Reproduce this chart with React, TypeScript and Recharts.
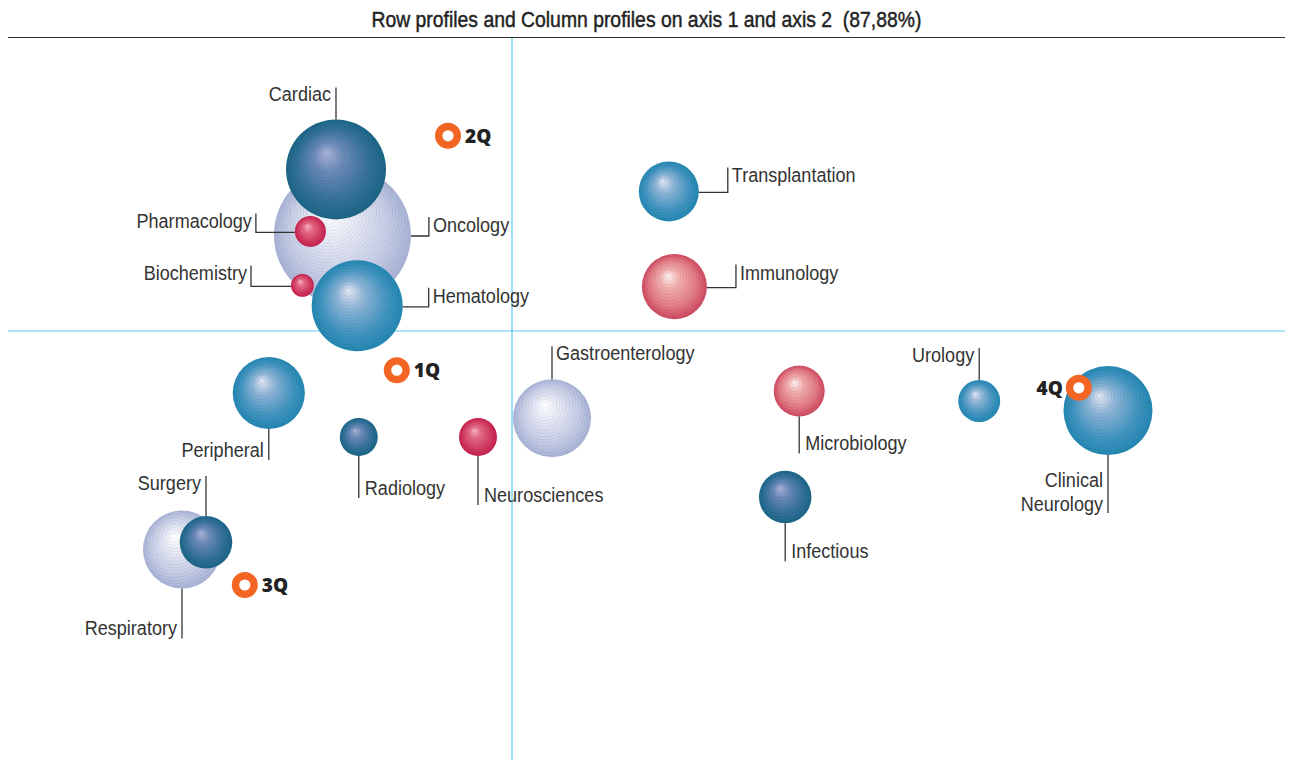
import React from "react";
import { ScatterChart, Scatter, XAxis, YAxis, ZAxis, ReferenceLine } from "recharts";

// row / column profiles (axis 1, axis 2) and their masses
const fields = [
  "Oncology", "Gastroenterology", "Respiratory",
  "Cardiac", "Radiology", "Infectious", "Surgery",
  "Hematology", "Transplantation", "Peripheral", "Urology", "Clinical Neurology",
  "Pharmacology", "Biochemistry", "Neurosciences",
  "Immunology", "Microbiology",
];
const axis1 = [
  -0.424, 0.1, -0.825,
  -0.44, -0.383, 0.683, -0.765,
  -0.387, 0.392, -0.608, 1.168, 1.49,
  -0.504, -0.524, -0.085,
  0.406, 0.718,
];
const axis2 = [
  0.24, -0.218, -0.546,
  0.404, -0.265, -0.415, -0.528,
  0.063, 0.349, -0.155, -0.175, -0.199,
  0.249, 0.114, -0.265,
  0.111, -0.15,
];
const mass = [
  46.9, 15.2, 15.2,
  25, 3.6, 6.9, 6.9,
  20.7, 9.0, 13.0, 4.4, 19.8,
  2.4, 1.3, 3.6,
  10.6, 6.5,
];
const tone = [
  "light", "light", "light",
  "dark", "dark", "dark", "dark",
  "mid", "mid", "mid", "mid", "mid",
  "red", "red", "red",
  "rose", "rose",
];

const quadrants = ["1Q", "2Q", "3Q", "4Q"];
const quadAxis1 = [-0.288, -0.16, -0.668, 1.417];
const quadAxis2 = [-0.098, 0.488, -0.635, -0.142];

const toneOrder = ["light", "dark", "mid", "red", "rose"];
const palette: Record<string, string[]> = {
  light: ["#ffffff", "#e6e9f5", "#c5cce5", "#a7b2d5"],
  dark: ["#aab3d8", "#6a89b7", "#33709a", "#1b6586"],
  mid: ["#e3e6f4", "#8db4d6", "#4194c0", "#2387b2"],
  red: ["#f8b6c3", "#e46a86", "#d33c62", "#c21f4d"],
  rose: ["#fdf1ef", "#f1adad", "#e27a84", "#cd4860"],
};

// leader line placement for each label
const labelLayout: Record<string, { kind: string; len: number; h?: number }> = {
  Cardiac: { kind: "up-left", len: 32 },
  Urology: { kind: "up-left", len: 32 },
  Surgery: { kind: "up-left", len: 40 },
  Gastroenterology: { kind: "up-right", len: 33 },
  Microbiology: { kind: "down-right", len: 37 },
  Infectious: { kind: "down-right", len: 38 },
  Radiology: { kind: "down-right", len: 42 },
  Neurosciences: { kind: "down-right", len: 49 },
  Peripheral: { kind: "down-left", len: 31 },
  Respiratory: { kind: "down-left", len: 50 },
  "Clinical Neurology": { kind: "down-left", len: 58 },
  Oncology: { kind: "elbow-right", len: 18, h: 19 },
  Hematology: { kind: "elbow-right", len: 26, h: 19 },
  Transplantation: { kind: "elbow-right", len: 29, h: 25 },
  Immunology: { kind: "elbow-right", len: 29, h: 23 },
  Pharmacology: { kind: "elbow-left", len: 39, h: 19 },
  Biochemistry: { kind: "elbow-left", len: 40, h: 21 },
};

const FONT = "'Liberation Sans', Arial, sans-serif";
const INK = "#333333";
const LINE_GAP = 24;

const bubbles = fields.map((name, i) => ({ name, x: axis1[i], y: axis2[i], z: mass[i], tone: tone[i] }));
const quadData = quadrants.map((name, i) => ({ name, x: quadAxis1[i], y: quadAxis2[i] }));

// condensed label text: regular sans squeezed horizontally, may wrap on a space
const NText = ({ x, y, anchor, lines }: { x: number; y: number; anchor: "start" | "end"; lines: string[] }) => (
  <g transform={`translate(${x},${y - (lines.length - 1) * LINE_GAP}) scale(0.86,1)`}>
    <text x={0} y={0} textAnchor={anchor} fontFamily={FONT} fontSize={21} fill={INK}>
      {lines.map((s, k) => (
        <tspan key={s} x={0} dy={k === 0 ? 0 : LINE_GAP}>{s}</tspan>
      ))}
    </text>
  </g>
);

const BubbleLabel = ({ name, cx, cy, r }: { name: string; cx: number; cy: number; r: number }) => {
  const lay = labelLayout[name];
  if (!lay) return null;
  const ln = { stroke: INK, strokeWidth: 1.3, fill: "none" };
  const lines = name === "Clinical Neurology" ? ["Clinical", "Neurology"] : [name];
  if (lay.kind === "up-left" || lay.kind === "up-right") {
    const top = cy - r - lay.len;
    const right = lay.kind === "up-right";
    return (
      <g>
        <line x1={cx} y1={cy - r} x2={cx} y2={top} {...ln} />
        <NText x={right ? cx + 4 : cx - 5} y={top + 14} anchor={right ? "start" : "end"} lines={lines} />
      </g>
    );
  }
  if (lay.kind === "down-left" || lay.kind === "down-right") {
    const bottom = cy + r + lay.len;
    const right = lay.kind === "down-right";
    return (
      <g>
        <line x1={cx} y1={cy + r} x2={cx} y2={bottom} {...ln} />
        <NText x={right ? cx + 6 : cx - 5} y={bottom - (lines.length > 1 ? 2 : 3)} anchor={right ? "start" : "end"} lines={lines} />
      </g>
    );
  }
  const right = lay.kind === "elbow-right";
  const x0 = right ? cx + r : cx - r;
  const ex = right ? x0 + lay.len : x0 - lay.len;
  const y0 = cy + 1;
  const top = y0 - (lay.h || 20);
  return (
    <g>
      <polyline points={`${x0},${y0} ${ex},${y0} ${ex},${top}`} {...ln} />
      <NText x={right ? ex + 4 : ex - 4} y={top + 15} anchor={right ? "start" : "end"} lines={lines} />
    </g>
  );
};

const Bubble = (props: any) => {
  const { cx, cy, size, width, payload } = props;
  const r = size ? Math.sqrt(size / Math.PI) : width / 2;
  const id = "rings-" + payload.name.replace(/\s/g, "");
  const hx = cx - r * 0.2;
  const hy = cy - r * 0.34;
  return (
    <g>
      <defs>
        <radialGradient id={id} gradientUnits="userSpaceOnUse" cx={hx} cy={hy} r={3.2} spreadMethod="repeat">
          <stop offset="0" stopColor="#000" stopOpacity={0} />
          <stop offset="0.6" stopColor="#000" stopOpacity={0} />
          <stop offset="1" stopColor="#000" stopOpacity={0.07} />
        </radialGradient>
      </defs>
      <circle cx={cx} cy={cy} r={r} fill={`url(#g-${payload.tone})`} />
      <circle cx={cx} cy={cy} r={r} fill={`url(#${id})`} />
      <BubbleLabel name={payload.name} cx={cx} cy={cy} r={r} />
    </g>
  );
};

const QuadMark = (props: any) => {
  const { cx, cy, payload } = props;
  const left = payload.name === "4Q";
  return (
    <g>
      <circle cx={cx} cy={cy} r={9.3} fill="#ffffff" stroke="#f26522" strokeWidth={7.4} />
      <text x={left ? cx - 16 : cx + 17} y={cy + 7} textAnchor={left ? "end" : "start"}
        fontFamily="'Open Sans', 'Noto Sans', sans-serif" fontWeight={800} fontSize={19} fill="#222222">
        {payload.name}
      </text>
    </g>
  );
};

export default function App() {
  return (
    <div style={{ position: "absolute", left: 0, top: 0, width: 1289, height: 760, background: "#fff" }}>
      <div
        style={{
          position: "absolute", left: 8, top: 0, width: 1277, height: 37,
          borderBottom: "1px solid #333", textAlign: "center",
          fontFamily: FONT, fontSize: 22, lineHeight: "40px", color: "#222",
          WebkitTextStroke: "0.45px #222", whiteSpace: "pre",
        }}
      >
        <span style={{ display: "inline-block", transform: "scaleX(0.88)" }}>
          {"Row profiles and Column profiles on axis 1 and axis 2  (87,88%)"}
        </span>
      </div>
      <ScatterChart width={1289} height={760} margin={{ top: 38, right: 4, bottom: 0, left: 8 }}>
        <defs>
          {toneOrder.map((k) => (
            <radialGradient key={k} id={`g-${k}`} cx="0.5" cy="0.5" r="0.5" fx="0.4" fy="0.33">
              <stop offset="0" stopColor={palette[k][0]} />
              <stop offset="0.3" stopColor={palette[k][1]} />
              <stop offset="0.72" stopColor={palette[k][2]} />
              <stop offset="1" stopColor={palette[k][3]} />
            </radialGradient>
          ))}
        </defs>
        <XAxis type="number" dataKey="x" domain={[-1.26, 1.9325]} hide allowDataOverflow />
        <YAxis type="number" dataKey="y" domain={[-1.0725, 0.7325]} hide allowDataOverflow />
        <ZAxis type="number" dataKey="z" domain={[0, 50]} range={[0, 15708]} />
        <ReferenceLine x={0} stroke="#5cc6ef" strokeWidth={1.2} />
        <ReferenceLine y={0} stroke="#5cc6ef" strokeWidth={1.2} />
        {toneOrder.map((k) => (
          <Scatter
            key={k}
            name={k}
            data={bubbles.filter((b) => b.tone === k)}
            shape={Bubble}
            isAnimationActive={false}
          />
        ))}
        <Scatter name="quadrants" data={quadData} shape={QuadMark} isAnimationActive={false} />
      </ScatterChart>
    </div>
  );
}
